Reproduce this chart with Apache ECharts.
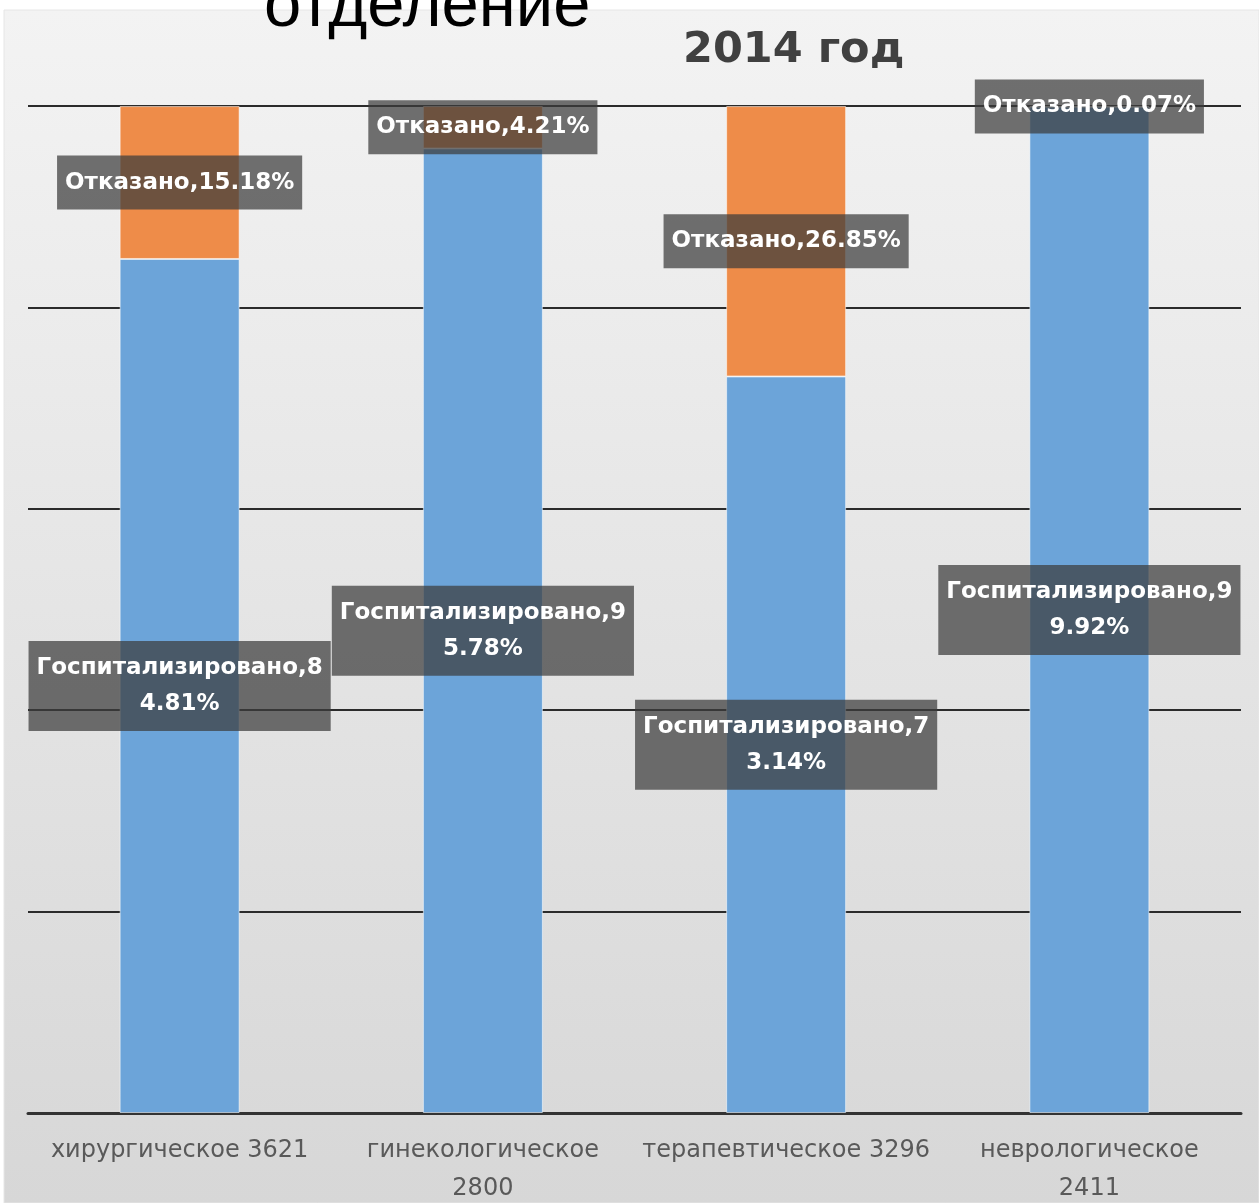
<!DOCTYPE html>
<html>
<head>
<meta charset="utf-8">
<script src="https://cdn.jsdelivr.net/npm/echarts@6/dist/echarts.min.js"></script>
<style>
  html, body { margin: 0; padding: 0; background: #ffffff; }
  #chart { width: 1259px; height: 1203px; }
</style>
</head>
<body>
<div id="chart"></div>
<script>
// отделения (подпись оси X) и доли, %
var categories = ['хирургическое 3621', 'гинекологическое\n2800', 'терапевтическое 3296', 'неврологическое\n2411'];
var hospitalized = [84.81, 95.78, 73.14, 99.92];
var refused = [15.18, 4.21, 26.85, 0.07];
var yTicks = [0, 20, 40, 60, 80, 100];

var chart = echarts.init(document.getElementById('chart'));

// подпись в стиле Excel: "Имя,значение%"; для госпитализированных перенос внутри числа
function makeLabel(name, wrapAfter) {
  return function (p) {
    var s = name + ',' + p.value.toFixed(2) + '%';
    if (wrapAfter) {
      var cut = name.length + 2;
      s = s.slice(0, cut) + '\n' + s.slice(cut);
    }
    return s;
  };
}

var labelStyle = {
  show: true,
  position: 'inside',
  color: '#ffffff',
  fontFamily: 'DejaVu Sans',
  fontWeight: 'bold',
  fontSize: 23,
  lineHeight: 36,
  backgroundColor: 'rgba(60,60,60,0.72)',
  padding: [9, 8]
};

chart.setOption({
  animation: false,
  graphic: [
    {
      type: 'rect',
      z: -10,
      silent: true,
      shape: { x: 4, y: 10, width: 1255, height: 1193 },
      style: {
        fill: new echarts.graphic.LinearGradient(0, 0, 0, 1, [
          { offset: 0, color: '#f3f3f3' },
          { offset: 1, color: '#d7d7d7' }
        ]),
        stroke: '#e6e6e6',
        lineWidth: 1
      }
    },
    {
      type: 'text',
      left: 264,
      top: -26,
      z: 10,
      style: {
        text: 'отделение',
        fontFamily: 'Liberation Sans',
        fontSize: 67,
        fill: '#000000'
      }
    },
    {
      type: 'text',
      left: 683,
      top: 29,
      z: 10,
      style: {
        text: '2014 год',
        fontFamily: 'DejaVu Sans',
        fontWeight: 'bold',
        fontSize: 43,
        fill: '#404040'
      }
    }
  ],
  grid: { left: 28, right: 18, top: 106, bottom: 90, containLabel: false, outerBoundsMode: 'none' },
  xAxis: {
    type: 'category',
    data: categories,
    axisLine: { show: true, lineStyle: { color: '#333333', width: 3 } },
    axisTick: { show: false },
    axisLabel: {
      color: '#595959',
      fontFamily: 'DejaVu Sans',
      fontSize: 24,
      lineHeight: 38,
      margin: 19,
      interval: 0
    }
  },
  yAxis: {
    type: 'value',
    min: yTicks[0],
    max: yTicks[yTicks.length - 1],
    interval: yTicks[1] - yTicks[0],
    axisLine: { show: false },
    axisTick: { show: false },
    axisLabel: { show: false },
    splitLine: { show: true, lineStyle: { color: '#2b2b2b', width: 2 } }
  },
  series: [
    {
      name: 'Госпитализировано',
      type: 'bar',
      stack: 'total',
      barWidth: 120,
      itemStyle: { color: '#6ca4d9', borderColor: 'rgba(255,255,255,0.55)', borderWidth: 1 },
      label: Object.assign({}, labelStyle, { formatter: makeLabel('Госпитализировано', true) }),
      data: hospitalized
    },
    {
      name: 'Отказано',
      type: 'bar',
      stack: 'total',
      barWidth: 120,
      itemStyle: { color: '#ee8c49', borderColor: 'rgba(255,255,255,0.55)', borderWidth: 1 },
      label: Object.assign({}, labelStyle, { formatter: makeLabel('Отказано', false) }),
      data: refused
    }
  ]
});
</script>
</body>
</html>
